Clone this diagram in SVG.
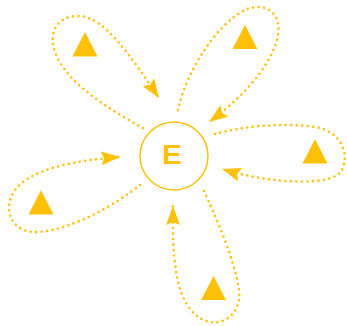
<svg xmlns="http://www.w3.org/2000/svg" width="347" height="326" viewBox="0 0 347 326">
<style>
.loop{fill:none;stroke:#FFC107;stroke-width:2.6;stroke-dasharray:0 5.5;stroke-linecap:round;marker-end:url(#ah)}
.tri{fill:#FFC107}
.hub{fill:#fff;stroke:#FFC107;stroke-width:1.5}
.lbl{font-family:"Liberation Sans",Arial,sans-serif;font-weight:bold;font-size:27px;fill:#FFC107;text-anchor:middle}
</style>
<defs>
<marker id="ah" viewBox="0 0 19 14" refX="19" refY="7" markerWidth="19" markerHeight="14" markerUnits="userSpaceOnUse" orient="auto">
<path d="M0,0 L19,7 L0,14 L3,7 z" fill="#FFC107"/>
</marker>
</defs>
<g id="connectors">
<path class="loop" d="M143,128 C110,110 70,85 57,57 C45,30 60,15 80,16 C105,18 130,55 159,98"/>
<path class="loop" d="M178,110 C185,75 215,25 245,10 C262,2 282,10 278,35 C273,65 240,100 209,122"/>
<path class="loop" d="M215,134 C240,127 280,122 315,127 C340,131 350,152 342,170 C334,187 270,184 222,169"/>
<path class="loop" d="M140,185 C115,205 75,228 40,232 C15,234 3,215 12,195 C25,168 80,160 120,157"/>
<path class="loop" d="M204,191 C215,215 235,260 239,290 C242,312 225,325 210,322 C190,318 178,295 175,263 C172,240 173,220 173,206"/>
</g>
<g id="hub">
<circle class="hub" cx="174" cy="156" r="34"/>
<text class="lbl" x="172" y="164.5" transform="translate(172 0) scale(1.1 1) translate(-172 0)">E</text>
</g>
<g id="t1"><polygon class="tri" points="85,32 72.5,56.5 97.5,56.5"/></g>
<g id="t2"><polygon class="tri" points="245,25 232.5,49 257.5,49"/></g>
<g id="t3"><polygon class="tri" points="315,139 302.5,163.5 327.5,163.5"/></g>
<g id="t4"><polygon class="tri" points="41,190 28.5,214.5 53.5,214.5"/></g>
<g id="t5"><polygon class="tri" points="213.5,276 201,300 226,300"/></g>
</svg>
